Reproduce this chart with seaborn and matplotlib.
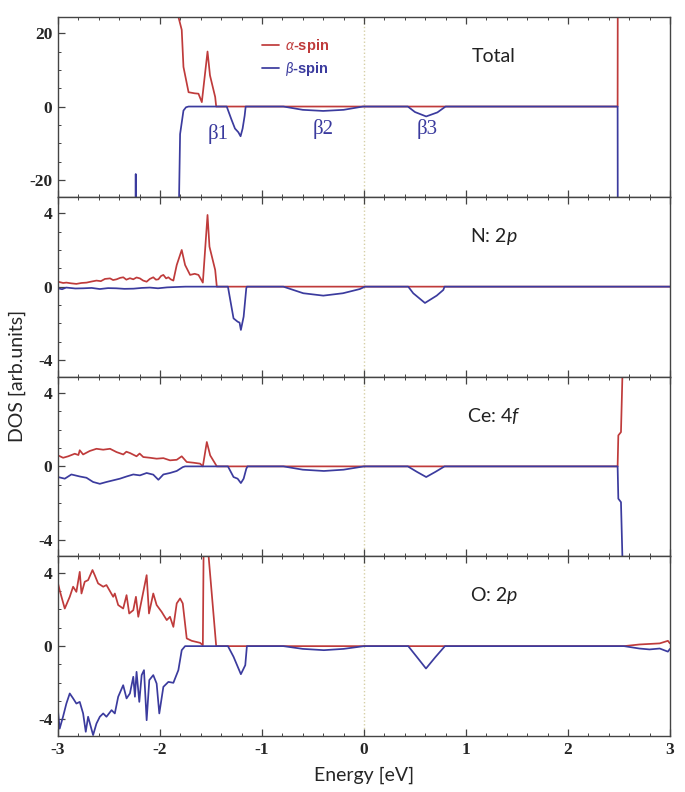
import numpy as np
import pandas as pd
import matplotlib
matplotlib.use("Agg")
import matplotlib.pyplot as plt
import seaborn as sns
from matplotlib.ticker import MultipleLocator

# ---------------- data ----------------
# Panel 1: Total
tot_a_E = [-3.0, -1.84, -1.82, -1.787, -1.77, -1.72, -1.66, -1.623, -1.59, -1.534, -1.51, -1.459, -1.449, 2.487, 2.49, 3.0]
tot_a_D = [60, 40, 24.5, 20.9, 10.8, 3.9, 3.6, 3.5, 1.2, 15.0, 8.5, 2.6, 0.0, 0.0, 60, 60]
tot_b_E = [-3.0, -2.245, -2.238, -2.232, -1.815, -1.813, -1.803, -1.77, -1.745, -1.72, -1.346, -1.30, -1.265,
           -1.232, -1.21, -1.19, -1.17, -1.16, -0.79, -0.6, -0.4, -0.2, -0.01, 0.43, 0.5, 0.61, 0.72, 0.80,
           2.487, 2.49, 3.0]
tot_b_D = [-60, -60, -18.4, -60, -60, -24.6, -7.5, -1.1, -0.2, 0.0, 0.0, -3.5, -6.0,
           -7.0, -8.1, -6.0, -2.5, 0.0, 0.0, -0.9, -1.2, -0.9, 0.0, 0.0, -1.5, -2.7, -1.6, 0.0,
           0.0, -60, -60]

# Panel 2: N 2p
n_a_E = [-3.0, -2.95, -2.918, -2.87, -2.82, -2.77, -2.72, -2.67, -2.623, -2.58, -2.54, -2.49, -2.46, -2.426,
         -2.39, -2.36, -2.33, -2.295, -2.262, -2.23, -2.197, -2.165, -2.131, -2.10, -2.066, -2.04, -2.016,
         -1.99, -1.967, -1.94, -1.918, -1.895, -1.869, -1.836, -1.787, -1.754, -1.705, -1.66, -1.623,
         -1.58, -1.534, -1.515, -1.459, -1.443, 3.0]
n_a_D = [0.27, 0.20, 0.22, 0.18, 0.15, 0.20, 0.22, 0.28, 0.33, 0.30, 0.42, 0.45, 0.36, 0.40,
         0.48, 0.51, 0.38, 0.46, 0.40, 0.50, 0.45, 0.33, 0.27, 0.42, 0.51, 0.38, 0.40,
         0.58, 0.64, 0.45, 0.51, 0.40, 0.33, 1.18, 2.0, 1.18, 0.64, 0.70, 0.64,
         0.22, 3.91, 2.18, 0.91, 0.0, 0.0]
n_b_E = [-3.0, -2.96, -2.92, -2.83, -2.75, -2.67, -2.59, -2.51, -2.43, -2.35, -2.26, -2.18, -2.10, -2.02,
         -1.93, -1.80, -1.75, -1.334, -1.311, -1.279, -1.239,
         -1.22, -1.207, -1.18, -1.154, -1.148, -0.791, -0.595, -0.399, -0.206, -0.04, 0.01, 0.434, 0.483,
         0.598, 0.713, 0.778, 0.79, 3.0]
n_b_D = [-0.09, -0.14, -0.05, -0.10, -0.09, -0.07, -0.13, -0.08, -0.09, -0.12, -0.11, -0.07, -0.05, -0.09,
         -0.04, -0.01, 0.0, 0.0, -0.73, -1.73, -1.91,
         -1.96, -2.36, -1.64, -0.09, 0.0, 0.0, -0.36, -0.49, -0.36, -0.13, 0.0, 0.0, -0.36,
         -0.89, -0.49, -0.18, 0.0, 0.0]

# Panel 3: Ce 4f
ce_a_E = [-3.0, -2.95, -2.9, -2.836, -2.80, -2.787, -2.754, -2.689, -2.623, -2.557, -2.49, -2.426, -2.36,
          -2.33, -2.295, -2.23, -2.20, -2.164, -2.098, -2.033, -1.967, -1.902, -1.836, -1.787, -1.738,
          -1.672, -1.607, -1.58, -1.541, -1.508, -1.459, -1.443, 2.487, 2.494, 2.52, 2.533, 2.55, 3.0]
ce_a_D = [0.60, 0.47, 0.55, 0.69, 0.62, 0.88, 0.65, 0.84, 0.96, 0.91, 0.96, 0.78, 0.65,
          0.80, 0.73, 0.55, 0.70, 0.51, 0.47, 0.42, 0.45, 0.33, 0.36, 0.55, 0.24,
          0.20, 0.15, 0.0, 1.33, 0.60, 0.15, 0.0, 0.0, 1.69, 1.87, 4.7, 8.0, 8.0]
ce_b_E = [-3.0, -2.934, -2.869, -2.787, -2.721, -2.656, -2.59, -2.525, -2.459, -2.393, -2.328, -2.262,
          -2.197, -2.131, -2.066, -2.016, -1.967, -1.902, -1.836, -1.777, -1.754, -1.334, -1.279, -1.239,
          -1.207, -1.18, -1.154, -1.142, -0.79, -0.6, -0.393, -0.2, 0.0, 0.43, 0.52, 0.61, 0.70, 0.79,
          2.487, 2.494, 2.52, 2.533, 2.55, 3.0]
ce_b_D = [-0.58, -0.67, -0.44, -0.55, -0.62, -0.85, -0.95, -0.85, -0.76, -0.67, -0.55, -0.44,
          -0.49, -0.36, -0.45, -0.73, -0.44, -0.36, -0.25, -0.04, 0.0, 0.0, -0.58, -0.67,
          -0.91, -0.67, -0.13, 0.0, 0.0, -0.18, -0.25, -0.18, 0.0, 0.0, -0.3, -0.58, -0.3, 0.0,
          0.0, -1.76, -1.95, -4.76, -8.0, -8.0]

# Panel 4: O 2p
o_a_E = [-3.0, -2.984, -2.934, -2.885, -2.852, -2.82, -2.787, -2.77, -2.738, -2.705, -2.662, -2.64, -2.607,
         -2.557, -2.525, -2.459, -2.443, -2.41, -2.361, -2.328, -2.302, -2.262, -2.236, -2.213, -2.18,
         -2.131, -2.108, -2.066, -2.033, -1.984, -1.934, -1.902, -1.869, -1.836, -1.803, -1.777, -1.738,
         -1.689, -1.607, -1.58, -1.567, -1.54, -1.525, -1.449, 2.55, 2.7, 2.8, 2.9, 2.98, 3.0]
o_a_D = [3.42, 3.05, 2.05, 2.69, 3.24, 2.96, 4.05, 2.87, 3.51, 3.60, 4.15, 3.87, 3.42,
         3.24, 3.33, 2.69, 2.87, 2.24, 2.05, 2.78, 1.78, 1.96, 2.69, 1.60, 2.51,
         3.87, 1.78, 2.87, 2.24, 1.87, 1.42, 1.60, 1.05, 2.33, 2.60, 2.33, 0.42,
         0.29, 0.18, 0.05, 9.0, 9.0, 5.0, 0.0, 0.0, 0.09, 0.12, 0.15, 0.29, 0.15]
o_b_E = [-3.0, -2.984, -2.951, -2.918, -2.885, -2.852, -2.82, -2.787, -2.754, -2.728, -2.705, -2.656,
         -2.623, -2.59, -2.557, -2.525, -2.475, -2.443, -2.41, -2.361, -2.328, -2.295, -2.262, -2.246,
         -2.23, -2.203, -2.18, -2.157, -2.131, -2.105, -2.066, -2.033, -2.007, -1.967, -1.918, -1.869,
         -1.82, -1.787, -1.754, -1.334, -1.279, -1.207, -1.164, -1.148, -0.79, -0.6, -0.393, -0.2, 0.0,
         0.434, 0.52, 0.608, 0.70, 0.794, 2.55, 2.7, 2.8, 2.9, 2.98, 3.0]
o_b_D = [-3.52, -4.5, -3.85, -3.13, -2.58, -2.85, -3.13, -3.04, -3.67, -4.67, -3.85, -4.85,
         -4.22, -3.85, -3.67, -3.85, -3.49, -3.67, -2.76, -2.13, -2.85, -2.58, -1.67, -2.76,
         -1.40, -3.04, -1.58, -1.31, -4.04, -1.85, -1.58, -2.04, -3.67, -2.22, -1.95, -2.0,
         -1.31, -0.22, 0.0, 0.0, -0.58, -1.53, -1.04, 0.0, 0.0, -0.15, -0.22, -0.15, 0.0,
         0.0, -0.6, -1.22, -0.6, 0.0, 0.0, -0.13, -0.18, -0.13, -0.30, -0.15]

panel_labels = ["Total", r"N: 2$\it{p}$", r"Ce: 4$\it{f}$", r"O: 2$\it{p}$"]
spin_labels = [r"$\alpha$-spin", r"$\beta$-spin"]
beta_labels = ["β1", "β2", "β3"]
beta_E = [-1.43, -0.40, 0.62]
beta_D = [-7.4, -6.0, -6.0]
x_ticks = [-3, -2, -1, 0, 1, 2, 3]
x_tick_labels = ["-3", "-2", "-1", "0", "1", "2", "3"]
y_ticks_total = [-20, 0, 20]
y_ticks_pdos = [-4, 0, 4]

# ---------------- style ----------------
sns.set_theme(style="white")
plt.rcParams["font.family"] = ["Lato", "DejaVu Sans"]
plt.rcParams["axes.unicode_minus"] = False
plt.rcParams["mathtext.fontset"] = "custom"
plt.rcParams["mathtext.rm"] = "Lato"
plt.rcParams["mathtext.it"] = "Lato:italic"
plt.rcParams["mathtext.bf"] = "Lato:bold"

RED = "#bf3b3b"
BLUE = "#3b3b9e"
palette = {spin_labels[0]: RED, spin_labels[1]: BLUE}

fig = plt.figure(figsize=(6.85, 7.92), dpi=100)
gs = fig.add_gridspec(4, 1, left=0.0847, right=0.978, top=0.9785, bottom=0.0707, hspace=0)
axes = [fig.add_subplot(gs[i]) for i in range(4)]

data_sets = [
    (tot_a_E, tot_a_D, tot_b_E, tot_b_D),
    (n_a_E, n_a_D, n_b_E, n_b_D),
    (ce_a_E, ce_a_D, ce_b_E, ce_b_D),
    (o_a_E, o_a_D, o_b_E, o_b_D),
]

tick_font = dict(fontfamily="Liberation Serif", fontweight="bold", fontsize=12.5)

for i, (ax, (aE, aD, bE, bD)) in enumerate(zip(axes, data_sets)):
    df = pd.concat([
        pd.DataFrame({"E": aE, "DOS": aD, "spin": spin_labels[0]}),
        pd.DataFrame({"E": bE, "DOS": bD, "spin": spin_labels[1]}),
    ], ignore_index=True)
    ax.axvline(0, color="#d6cfa6", linestyle=":", linewidth=1.0, zorder=0)
    sns.lineplot(data=df, x="E", y="DOS", hue="spin", palette=palette, hue_order=spin_labels,
                 estimator=None, sort=False, linewidth=1.25, ax=ax, legend=(i == 0))
    ax.set_xlim(-3, 3)
    if i == 0:
        ax.set_ylim(-24.6, 24.4)
        ax.set_yticks(y_ticks_total, labels=[str(t) for t in y_ticks_total], **tick_font)
        ax.yaxis.set_minor_locator(MultipleLocator(5))
    else:
        ax.set_ylim(-4.9, 4.9)
        ax.set_yticks(y_ticks_pdos, labels=[str(t) for t in y_ticks_pdos], **tick_font)
        ax.yaxis.set_minor_locator(MultipleLocator(1))
    if i == 3:
        ax.set_xticks(x_ticks, labels=x_tick_labels, **tick_font)
    else:
        ax.set_xticks(x_ticks, labels=[""] * len(x_ticks))
    ax.xaxis.set_minor_locator(MultipleLocator(0.2))
    ax.tick_params(which="both", direction="in", top=True, bottom=True, left=True, right=False,
                   color="#444444", pad=4)
    ax.tick_params(which="major", length=5, width=0.9)
    ax.tick_params(which="minor", length=2.5, width=0.7)
    ax.set_xlabel("")
    ax.set_ylabel("")
    for sp in ax.spines.values():
        sp.set_color("#444444")
        sp.set_linewidth(1.0)
    ax.text(0.712, 0.78, panel_labels[i], transform=ax.transAxes, ha="center", va="center",
            fontsize=14, color="#222222")

# beta labels in Total panel
for lab, e, d in zip(beta_labels, beta_E, beta_D):
    axes[0].text(e, d, lab, ha="center", va="center", fontsize=15, color=BLUE,
                 fontfamily="Liberation Serif")

# legend
leg = axes[0].legend(loc="upper left", bbox_to_anchor=(0.333, 0.89), frameon=False,
                     handlelength=1.2, handletextpad=0.4, labelspacing=0.35,
                     borderpad=0, borderaxespad=0, labelcolor="linecolor",
                     prop={"family": "Liberation Sans", "weight": "bold", "size": 10.5})
for t in leg.get_texts():
    t.set_fontweight("bold")

fig.text(0.531, 0.021, "Energy [eV]", ha="center", va="center", fontsize=14)
fig.text(0.026, 0.525, "DOS [arb.units]", ha="center", va="center", rotation=90, fontsize=14)

fig.savefig("out.png", dpi=100)
